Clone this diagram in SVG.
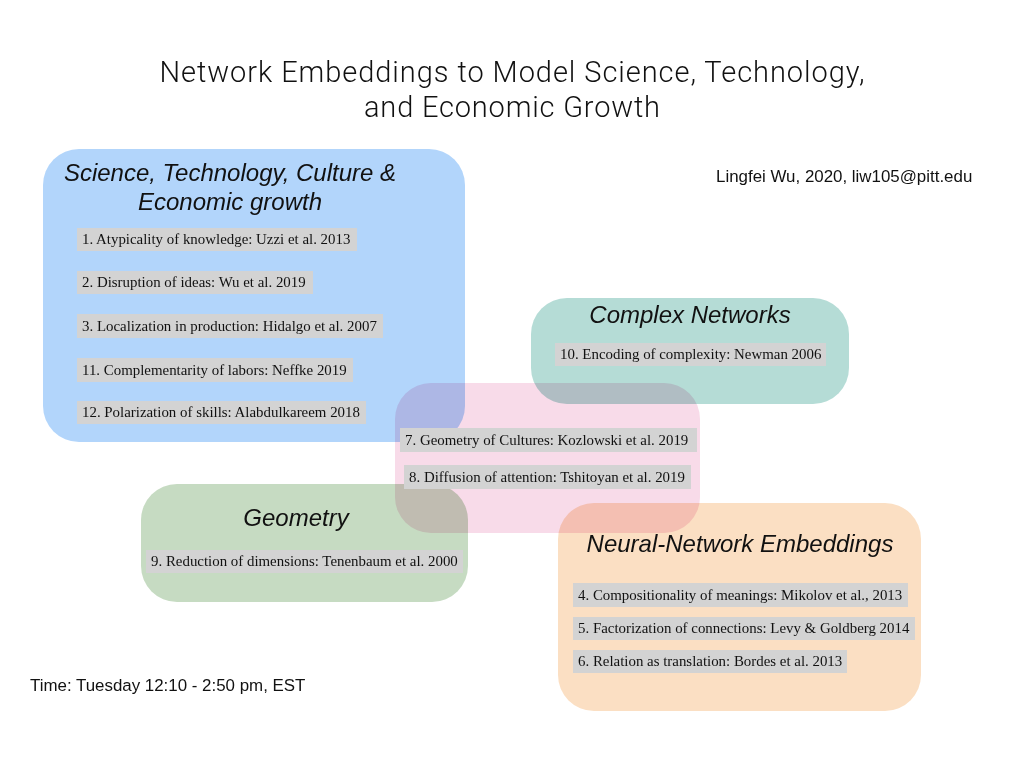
<svg xmlns="http://www.w3.org/2000/svg" width="1024" height="768" viewBox="0 0 1024 768">
<style>
.box{mix-blend-mode:multiply}
.lab{fill:#d3d3d3}
.lt{font-family:"Liberation Serif","Times New Roman",serif;font-size:14.9px;fill:#111}
.hd{font-family:"Liberation Sans",Arial,sans-serif;font-style:italic;font-size:24px;fill:#111;text-anchor:middle}
.ti{font-family:Roboto,"Liberation Sans",sans-serif;font-weight:300;font-size:29px;fill:#111;text-anchor:middle}
.sm{font-family:"Liberation Sans",Arial,sans-serif;font-size:16.9px;fill:#111}
</style>
<rect width="1024" height="768" fill="#fff"/>
<g id="title">
<text class="ti" x="512" y="82" textLength="705" lengthAdjust="spacing">Network Embeddings to Model Science, Technology,</text>
<text class="ti" x="512" y="117" textLength="296" lengthAdjust="spacing">and Economic Growth</text>
</g>
<text class="sm" x="716" y="182">Lingfei Wu, 2020, liw105@pitt.edu</text>
<text class="sm" x="30" y="691">Time: Tuesday 12:10 - 2:50 pm, EST</text>
<g id="science">
<rect class="box" x="43" y="149" width="422" height="293" rx="36" fill="#b2d5fb"/>
<text class="hd" x="230" y="181">Science, Technology, Culture &amp;</text>
<text class="hd" x="230" y="210">Economic growth</text>
<rect class="lab" x="77" y="228" width="280" height="23"/>
<text class="lt" x="82" y="244">1. Atypicality of knowledge: Uzzi et al. 2013</text>
<rect class="lab" x="77" y="271" width="236" height="23"/>
<text class="lt" x="82" y="287">2. Disruption of ideas: Wu et al. 2019</text>
<rect class="lab" x="77" y="314" width="306" height="24"/>
<text class="lt" x="82" y="331">3. Localization in production: Hidalgo et al. 2007</text>
<rect class="lab" x="77" y="358" width="276" height="24"/>
<text class="lt" x="82" y="375">11. Complementarity of labors: Neffke 2019</text>
<rect class="lab" x="77" y="401" width="289" height="23"/>
<text class="lt" x="82" y="417">12. Polarization of skills: Alabdulkareem 2018</text>
</g>
<g id="complex">
<rect class="box" x="531" y="298" width="318" height="106" rx="36" fill="#b5dcd6"/>
<text class="hd" x="690" y="323">Complex Networks</text>
<rect class="lab" x="555" y="343" width="271" height="23"/>
<text class="lt" x="560" y="359">10. Encoding of complexity: Newman 2006</text>
</g>
<g id="geometry">
<rect class="box" x="141" y="484" width="327" height="118" rx="36" fill="#c6dbc2"/>
<text class="hd" x="296" y="526">Geometry</text>
<rect class="lab" x="146" y="550" width="317" height="23"/>
<text class="lt" x="151" y="566">9. Reduction of dimensions: Tenenbaum et al. 2000</text>
</g>
<g id="neural">
<rect class="box" x="558" y="503" width="363" height="208" rx="36" fill="#fbdfc3"/>
<text class="hd" x="740" y="552">Neural-Network Embeddings</text>
<rect class="lab" x="573" y="583" width="335" height="24"/>
<text class="lt" x="578" y="600">4. Compositionality of meanings: Mikolov et al., 2013</text>
<rect class="lab" x="573" y="617" width="342" height="23"/>
<text class="lt" x="578" y="633">5. Factorization of connections: Levy &amp; Goldberg 2014</text>
<rect class="lab" x="573" y="650" width="274" height="23"/>
<text class="lt" x="578" y="666">6. Relation as translation: Bordes et al. 2013</text>
</g>
<g id="culture">
<rect class="box" x="395" y="383" width="305" height="150" rx="36" fill="#f8dbe9"/>
<rect class="lab" x="400" y="428" width="297" height="24"/>
<text class="lt" x="405" y="445">7. Geometry of Cultures: Kozlowski et al. 2019</text>
<rect class="lab" x="404" y="465" width="287" height="24"/>
<text class="lt" x="409" y="482">8. Diffusion of attention: Tshitoyan et al. 2019</text>
</g>
</svg>
